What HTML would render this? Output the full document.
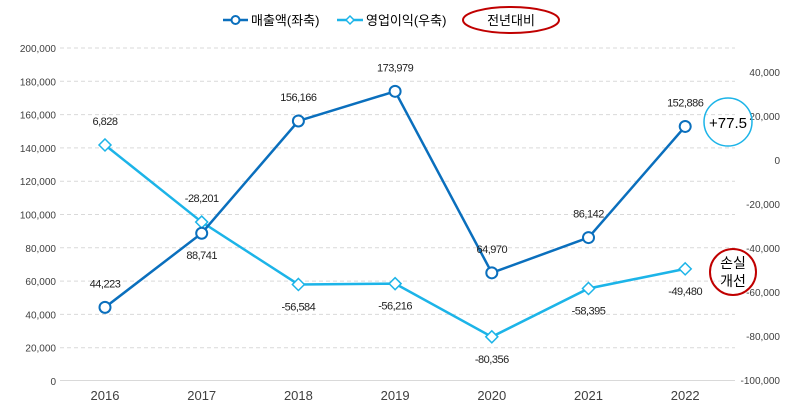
<!DOCTYPE html>
<html><head><meta charset="utf-8"><style>
body{margin:0;background:#fff;font-family:"Liberation Sans","Noto Sans CJK KR",sans-serif;}
svg text{font-family:"Liberation Sans","Noto Sans CJK KR",sans-serif;}
</style></head><body>
<svg id="c" width="788" height="410"></svg>
<script>
const years=['2016','2017','2018','2019','2020','2021','2022'];
const revenue=[44223,88741,156166,173979,64970,86142,152886];
const profit=[6828,-28201,-56584,-56216,-80356,-58395,-49480];
const leftTicks=[0,20000,40000,60000,80000,100000,120000,140000,160000,180000,200000];
const rightTicks=[-100000,-80000,-60000,-40000,-20000,0,20000,40000];
const svg=document.getElementById('c');
const NS='http://www.w3.org/2000/svg';
function mk(t,a,txt){const e=document.createElementNS(NS,t);for(const k in a)e.setAttribute(k,a[k]);if(txt!==undefined)e.textContent=txt;svg.appendChild(e);return e;}
const x=i=>105+i*96.7;
const yL=v=>381-v/200000*333;
const yR=v=>380-(v+100000)/140000*308;
const fmt=v=>v.toLocaleString('en-US');
leftTicks.forEach(t=>{
 if(t>0){const g=mk('line',{x1:60,x2:735,y1:yL(t),y2:yL(t),stroke:'#d9d9d9','stroke-dasharray':'4,3'});
 }
 const l=mk('text',{x:56,y:yL(t)+4,'text-anchor':'end','font-size':10,fill:'#404040'},fmt(t));
 
});
const ax=mk('line',{x1:60,x2:735,y1:380.5,y2:380.5,stroke:'#d9d9d9'});

rightTicks.forEach(t=>{
 const l=mk('text',{x:780,y:yR(t)+4,'text-anchor':'end','font-size':10,fill:'#404040'},fmt(t));
 
});
years.forEach((yv,i)=>{
 const l=mk('text',{x:x(i),y:400,'text-anchor':'middle','font-size':13,fill:'#404040'},yv);
 
});
const lp=mk('polyline',{points:profit.map((v,i)=>x(i)+','+yR(v)).join(' '),fill:'none',stroke:'#1cb4e8','stroke-width':2.5});

const lr=mk('polyline',{points:revenue.map((v,i)=>x(i)+','+yL(v)).join(' '),fill:'none',stroke:'#0a6fbd','stroke-width':2.5});

profit.forEach((v,i)=>{
 const cx=x(i),cy=yR(v);
 const d=mk('polygon',{points:`${cx},${cy-6} ${cx+6},${cy} ${cx},${cy+6} ${cx-6},${cy}`,fill:'#fff',stroke:'#1cb4e8','stroke-width':1.5});
 
 const above=i<=1;
 const l=mk('text',{x:cx,y:above?cy-20:cy+26,'text-anchor':'middle','font-size':11,fill:'#222','letter-spacing':'-0.5'},fmt(v));
 
});
revenue.forEach((v,i)=>{
 const cx=x(i),cy=yL(v);
 const c=mk('circle',{cx:cx,cy:cy,r:5.5,fill:'#fff',stroke:'#0a6fbd','stroke-width':2});
 
 const below=(i==1);
 const l=mk('text',{x:cx,y:below?cy+26:cy-20,'text-anchor':'middle','font-size':11,fill:'#222','letter-spacing':'-0.5'},fmt(v));
 
});
let a=mk('circle',{cx:728,cy:122,r:24,fill:'none',stroke:'#1cb4e8','stroke-width':1.5});

a=mk('text',{x:728,y:128,'text-anchor':'middle','font-size':15,fill:'#000'},'+77.5');

a=mk('circle',{cx:733,cy:272,r:23,fill:'none',stroke:'#c00000','stroke-width':2});

a=mk('text',{x:733,y:268,'text-anchor':'middle','font-size':14,fill:'#000'},'손실');

a=mk('text',{x:733,y:286,'text-anchor':'middle','font-size':14,fill:'#000'},'개선');

a=mk('line',{x1:223,x2:248,y1:20,y2:20,stroke:'#0a6fbd','stroke-width':2.5});
a=mk('circle',{cx:235.5,cy:20,r:4,fill:'#fff',stroke:'#0a6fbd','stroke-width':2});
a=mk('text',{x:251,y:25,'font-size':13,fill:'#000'},'매출액(좌축)');
a=mk('line',{x1:337,x2:363,y1:20,y2:20,stroke:'#1cb4e8','stroke-width':2.5});
a=mk('polygon',{points:'350,16 354,20 350,24 346,20',fill:'#fff',stroke:'#1cb4e8','stroke-width':1.5});
a=mk('text',{x:366,y:25,'font-size':13,fill:'#000'},'영업이익(우축)');
a=mk('ellipse',{cx:511,cy:20,rx:48,ry:13,fill:'none',stroke:'#c00000','stroke-width':2});
a=mk('text',{x:511,y:25,'text-anchor':'middle','font-size':13,fill:'#000'},'전년대비');
</script>
</body></html>
